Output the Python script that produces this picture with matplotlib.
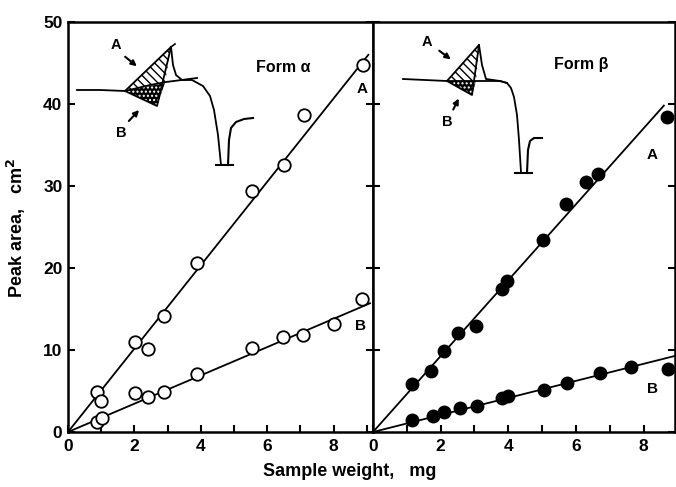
import numpy as np
import matplotlib.pyplot as plt
from matplotlib.patches import Polygon
from matplotlib.ticker import MultipleLocator

plt.rcParams['font.family'] = ['Liberation Sans', 'DejaVu Sans']
plt.rcParams['font.weight'] = 'bold'

# -------------------------------
# DATA
# -------------------------------

# Form alpha, open circles
alpha_a_x = [0.87, 1.0, 2.02, 2.4, 2.9, 3.88, 5.55, 6.5, 7.1, 8.89]
alpha_a_y = [4.9, 3.8, 11.0, 10.1, 14.2, 20.6, 29.4, 32.6, 38.7, 44.8]
alpha_b_x = [0.87, 1.02, 2.02, 2.4, 2.9, 3.88, 5.55, 6.48, 7.08, 8.0, 8.86]
alpha_b_y = [1.2, 1.7, 4.7, 4.3, 4.9, 7.1, 10.2, 11.6, 11.8, 13.2, 16.2]

# Form beta, filled circles
beta_a_x = [1.15, 1.72, 2.1, 2.5, 3.05, 3.82, 3.96, 5.03, 5.7, 6.3, 6.65, 8.7]
beta_a_y = [5.9, 7.5, 9.9, 12.1, 12.9, 17.4, 18.4, 23.4, 27.8, 30.5, 31.5, 38.4]
beta_b_x = [1.15, 1.78, 2.1, 2.57, 3.08, 3.82, 4.0, 5.06, 5.74, 6.7, 7.64, 8.73]
beta_b_y = [1.5, 1.9, 2.4, 2.9, 3.2, 4.2, 4.4, 5.1, 6.0, 7.2, 7.9, 7.7]

# fitted lines (start, end)
alpha_a_line = ([0, 9.05], [0, 46.0])
alpha_b_line = ([0, 9.1], [0, 15.7])
beta_a_line = ([0, 8.6], [0, 39.8])
beta_b_line = ([0, 8.95], [0, 9.3])

x_ticks = [0, 2, 4, 6, 8]
y_ticks = [0, 10, 20, 30, 40, 50]

# -------------------------------
# FIGURE
# -------------------------------

W, H = 676, 487
fig = plt.figure(figsize=(W / 100, H / 100), dpi=100)
ax1 = fig.add_axes([68 / W, 55 / H, 305 / W, 410 / H])
ax2 = fig.add_axes([373 / W, 55 / H, 302 / W, 410 / H])

ms = 9
ax1.plot(*alpha_a_line, color='k', lw=1.3)
ax1.plot(*alpha_b_line, color='k', lw=1.3)
ax1.plot(alpha_a_x, alpha_a_y, 'o', ms=ms, mfc='white', mec='k', mew=1.3)
ax1.plot(alpha_b_x, alpha_b_y, 'o', ms=ms, mfc='white', mec='k', mew=1.3)

ax2.plot(*beta_a_line, color='k', lw=1.3)
ax2.plot(*beta_b_line, color='k', lw=1.3)
ax2.plot(beta_a_x, beta_a_y, 'o', ms=ms, color='k')
ax2.plot(beta_b_x, beta_b_y, 'o', ms=ms, color='k')

ax1.set_xlim(0, 9.19)
ax2.set_xlim(0, 8.93)
for ax in (ax1, ax2):
    ax.set_ylim(0, 50)
    ax.set_xticks(x_ticks)
    ax.set_yticks(y_ticks)
    ax.xaxis.set_minor_locator(MultipleLocator(1))
    ax.tick_params(which='both', direction='in', length=5, width=1.5,
                   labelsize=12.5, pad=5)
    ax.tick_params(axis='y', right=True, pad=4)
    for s in ax.spines.values():
        s.set_linewidth(1.8)

ax2.tick_params(axis='y', labelleft=False)

ax1.text(8.86, 41.8, 'A', fontsize=11, ha='center', va='center')
ax1.text(8.8, 12.9, 'B', fontsize=11, ha='center', va='center')
ax1.text(6.5, 44.4, 'Form α', fontsize=11.5, ha='center', va='center')
ax2.text(8.25, 33.8, 'A', fontsize=11, ha='center', va='center')
ax2.text(8.25, 5.2, 'B', fontsize=11, ha='center', va='center')
ax2.text(6.15, 44.8, 'Form β', fontsize=11.5, ha='center', va='center')

fig.text(350 / W, 1 - 472 / H, 'Sample weight,   mg', fontsize=13,
         ha='center', va='center')
fig.text(16 / W, 1 - 228 / H, 'Peak area,   cm$^2$', fontsize=13,
         ha='center', va='center', rotation=90)

# -------------------------------
# THERMOGRAM SKETCHES (pixel space overlay)
# -------------------------------

sk = fig.add_axes([0, 0, 1, 1], facecolor='none')
sk.set_xlim(0, W)
sk.set_ylim(H, 0)
sk.axis('off')


def sketch(base, left, apex, bottom, cut, tail, dip, rise, lbl_a, arr_a, lbl_b, arr_b):
    # hatched upper part (A) and dark lower part (B) of the peak
    sk.add_patch(Polygon([left, apex, cut], closed=True, facecolor='white',
                         edgecolor='k', hatch='\\\\\\\\', lw=0))
    sk.add_patch(Polygon([left, cut, bottom], closed=True, facecolor='k',
                         edgecolor='white', hatch='....', lw=0))
    sk.plot([left[0], apex[0], bottom[0], left[0]],
            [left[1], apex[1], bottom[1], left[1]], color='k', lw=1.3)
    sk.plot(*zip(*base), color='k', lw=1.3)
    sk.plot(*zip(*tail), color='k', lw=1.3)
    sk.plot(*zip(*dip), color='k', lw=1.5)
    sk.plot(*zip(*rise), color='k', lw=1.5)
    sk.text(*lbl_a, 'A', fontsize=10.5, ha='center', va='center')
    sk.text(*lbl_b, 'B', fontsize=10.5, ha='center', va='center')
    sk.annotate('', xy=arr_a[1], xytext=arr_a[0],
                arrowprops=dict(arrowstyle='-|>', color='k', lw=1.5,
                                mutation_scale=8))
    sk.annotate('', xy=arr_b[1], xytext=arr_b[0],
                arrowprops=dict(arrowstyle='-|>', color='k', lw=1.5,
                                mutation_scale=8))


# Form alpha sketch
sketch(base=[(77, 90), (100, 90), (125, 91), (150, 85), (166, 82), (197, 78)],
       left=(125, 91), apex=(171, 47), bottom=(157, 106), cut=(165, 83),
       tail=[(171, 47), (173, 65), (176, 75), (182, 80), (192, 80), (203, 86),
             (210, 96), (214, 110), (218, 135), (221, 165)],
       dip=[(216, 165), (233, 165)],
       rise=[(228, 165), (229, 140), (231, 128), (236, 122), (244, 119), (253, 118)],
       lbl_a=(116, 45), arr_a=[(123, 55), (139, 68)],
       lbl_b=(121, 133), arr_b=[(127, 123), (141, 108)])
sk.plot([171, 175], [47, 44], color='k', lw=1.2)

# Form beta sketch
sketch(base=[(403, 79), (447, 81), (477, 81), (500, 81), (507, 83)],
       left=(447, 81), apex=(479, 45), bottom=(472, 95), cut=(476, 81),
       tail=[(479, 45), (482, 65), (486, 79), (500, 81), (507, 83), (511, 88),
             (514, 97), (517, 115), (519, 140), (521, 172)],
       dip=[(515, 173), (532, 173)],
       rise=[(527, 173), (528, 150), (530, 141), (534, 138), (542, 138)],
       lbl_a=(427, 42), arr_a=[(437, 49), (453, 61)],
       lbl_b=(447, 122), arr_b=[(452, 112), (460, 96)])

plt.savefig('out.png', dpi=100)
